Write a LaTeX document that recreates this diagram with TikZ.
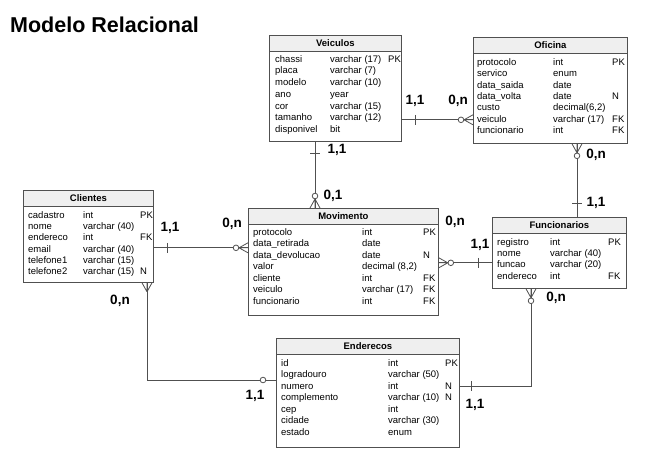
\documentclass[tikz,border=0pt]{standalone}
\usepackage{fontspec}
\setmainfont{Liberation Sans}
\usetikzlibrary{positioning,calc}

\definecolor{linegray}{HTML}{505050}
\definecolor{headgray}{HTML}{EFEFEF}

\tikzset{
  tbl/.style={draw=linegray, fill=white, line width=0.8pt, inner sep=0, anchor=north west},
  tblhead/.style={draw=linegray, fill=headgray, line width=0.8pt, inner sep=0, anchor=north west,
    minimum height=16, font=\fontsize{9.5}{11}\selectfont\bfseries},
  cell/.style={anchor=base west, inner sep=0, font=\fontsize{9.5}{11}\selectfont},
  card/.style={inner sep=0, font=\fontsize{13.5}{15}\selectfont\bfseries},
  rel/.style={draw=linegray, line width=0.8pt},
  crowfoot/.pic={\draw[rel] (-9,0) -- (0,-5) (-9,0) -- (0,5) (-9,0) -- (0,0);},
  crowzero/.pic={\draw[rel] (-9,0) -- (0,-5) (-9,0) -- (0,5) (-12,0) -- (0,0);
    \draw[rel, fill=white] (-12,0) circle (2.8);},
}

\begin{document}
\begin{tikzpicture}[x=1pt, y=-1pt]
    \useasboundingbox[fill=white] (0,0) rectangle (660,460);

    % Title
    \node[anchor=west, inner sep=0, font=\fontsize{21.5}{24}\selectfont\bfseries] (title) at (10,25) {Modelo Relacional};

    % Veiculos
    \node[tbl, minimum width=132, minimum height=106] (veiculos) at (269,35) {};
    \node[tblhead, minimum width=132] (veiculos-h) at (veiculos.north west) {Veiculos};
    \foreach \c/\d/\k [count=\i] in {chassi/varchar (17)/PK, placa/varchar (7)/{}, modelo/varchar (10)/{},
        ano/year/{}, cor/varchar (15)/{}, tamanho/varchar (12)/{}, disponivel/bit/{}} {
      \node[cell] (veic-c\i) at (275, {50.6+11.7*\i}) {\c};
      \node[cell] (veic-d\i) at (330, {50.6+11.7*\i}) {\d};
      \node[cell] (veic-k\i) at (388, {50.6+11.7*\i}) {\k};
    }

    % Oficina
    \node[tbl, minimum width=154, minimum height=106] (oficina) at (473,37) {};
    \node[tblhead, minimum width=154] (oficina-h) at (oficina.north west) {Oficina};
    \foreach \c/\d/\k [count=\i] in {protocolo/int/PK, servico/enum/{}, data\_saida/date/{},
        data\_volta/date/N, custo/{decimal(6,2)}/{}, veiculo/varchar (17)/FK, funcionario/int/FK} {
      \node[cell] (ofic-c\i) at (477, {53.9+11.4*\i}) {\c};
      \node[cell] (ofic-d\i) at (553, {53.9+11.4*\i}) {\d};
      \node[cell] (ofic-k\i) at (612, {53.9+11.4*\i}) {\k};
    }

    % Clientes
    \node[tbl, minimum width=130, minimum height=92] (clientes) at (23,190) {};
    \node[tblhead, minimum width=130] (clientes-h) at (clientes.north west) {Clientes};
    \foreach \c/\d/\k [count=\i] in {cadastro/int/PK, nome/varchar (40)/{}, endereco/int/FK,
        email/varchar (40)/{}, telefone1/varchar (15)/{}, telefone2/varchar (15)/N} {
      \node[cell] (clie-c\i) at (28, {207+11.3*\i}) {\c};
      \node[cell] (clie-d\i) at (83, {207+11.3*\i}) {\d};
      \node[cell] (clie-k\i) at (140, {207+11.3*\i}) {\k};
    }

    % Movimento
    \node[tbl, minimum width=190, minimum height=107] (movimento) at (248,208) {};
    \node[tblhead, minimum width=190] (movimento-h) at (movimento.north west) {Movimento};
    \foreach \c/\d/\k [count=\i] in {protocolo/int/PK, data\_retirada/date/{}, data\_devolucao/date/N,
        valor/{decimal (8,2)}/{}, cliente/int/FK, veiculo/varchar (17)/FK, funcionario/int/FK} {
      \node[cell] (movi-c\i) at (253, {223.8+11.5*\i}) {\c};
      \node[cell] (movi-d\i) at (362, {223.8+11.5*\i}) {\d};
      \node[cell] (movi-k\i) at (423, {223.8+11.5*\i}) {\k};
    }

    % Funcionarios
    \node[tbl, minimum width=134, minimum height=71] (funcionarios) at (492,217) {};
    \node[tblhead, minimum width=134] (funcionarios-h) at (funcionarios.north west) {Funcionarios};
    \foreach \c/\d/\k [count=\i] in {registro/int/PK, nome/varchar (40)/{}, funcao/varchar (20)/{},
        endereco/int/FK} {
      \node[cell] (func-c\i) at (497, {234+11.3*\i}) {\c};
      \node[cell] (func-d\i) at (550, {234+11.3*\i}) {\d};
      \node[cell] (func-k\i) at (608, {234+11.3*\i}) {\k};
    }

    % Enderecos
    \node[tbl, minimum width=183, minimum height=109] (enderecos) at (276,338) {};
    \node[tblhead, minimum width=183] (enderecos-h) at (enderecos.north west) {Enderecos};
    \foreach \c/\d/\k [count=\i] in {id/int/PK, logradouro/varchar (50)/{}, numero/int/N,
        complemento/varchar (10)/N, cep/int/{}, cidade/varchar (30)/{}, estado/enum/{}} {
      \node[cell] (ende-c\i) at (281, {354.8+11.5*\i}) {\c};
      \node[cell] (ende-d\i) at (388, {354.8+11.5*\i}) {\d};
      \node[cell] (ende-k\i) at (445, {354.8+11.5*\i}) {\k};
    }

    % Veiculos - Movimento
    \draw[rel] ($(veiculos.south west)+(46,0)$) coordinate (vm1) -- ($(movimento.north west)+(67,0)$) coordinate (vm2);
    \draw[rel] ($(vm1)+(-5,12)$) -- ++(10,0);
    \pic[rotate=-90] at (vm2) {crowzero};
    \node[card] (vm-a) at (337,150) {1,1};
    \node[card] (vm-b) at (333,196) {0,1};

    % Veiculos - Oficina
    \draw[rel] ($(veiculos.south east)+(0,-22)$) coordinate (vo1) -- ($(oficina.south west)+(0,-24)$) coordinate (vo2);
    \draw[rel] ($(vo1)+(14,-5)$) -- ++(0,10);
    \pic at (vo2) {crowzero};
    \node[card] (vo-a) at (415,101) {1,1};
    \node[card] (vo-b) at (458,101) {0,n};

    % Oficina - Funcionarios
    \draw[rel] ($(oficina.south west)+(104,0)$) coordinate (of1) -- ($(funcionarios.north west)+(85,0)$) coordinate (of2);
    \pic[rotate=90] at (of1) {crowzero};
    \draw[rel] ($(of2)+(-5,-14)$) -- ++(10,0);
    \node[card] (of-a) at (596,155) {0,n};
    \node[card] (of-b) at (596,203) {1,1};

    % Clientes - Movimento
    \draw[rel] ($(clientes.south east)+(0,-35)$) coordinate (cm1) -- ($(movimento.south west)+(0,-68)$) coordinate (cm2);
    \draw[rel] ($(cm1)+(14,-5)$) -- ++(0,10);
    \pic at (cm2) {crowzero};
    \node[card] (cm-a) at (170,228) {1,1};
    \node[card] (cm-b) at (232,224) {0,n};

    % Movimento - Funcionarios
    \draw[rel] ($(movimento.south east)+(0,-53)$) coordinate (mf1) -- ($(funcionarios.south west)+(0,-26)$) coordinate (mf2);
    \pic[rotate=180] at (mf1) {crowzero};
    \draw[rel] ($(mf2)+(-14,-5)$) -- ++(0,10);
    \node[card] (mf-a) at (455,222) {0,n};
    \node[card] (mf-b) at (480,245) {1,1};

    % Clientes - Enderecos
    \draw[rel] ($(clientes.south west)+(124,0)$) coordinate (ce1) |- ($(enderecos.north west)+(0,42)$) coordinate (ce2);
    \pic[rotate=90] at (ce1) {crowfoot};
    \draw[rel, fill=white] ($(ce2)+(-13,0)$) circle (2.8);
    \node[card] (ce-a) at (120,301) {0,n};
    \node[card] (ce-b) at (255,396) {1,1};

    % Funcionarios - Enderecos
    \draw[rel] ($(funcionarios.south west)+(39,0)$) coordinate (fe1) |- ($(enderecos.north east)+(0,48)$) coordinate (fe2);
    \pic[rotate=90] at (fe1) {crowzero};
    \draw[rel] ($(fe2)+(12,-5)$) -- ++(0,10);
    \node[card] (fe-a) at (556,298) {0,n};
    \node[card] (fe-b) at (475,405) {1,1};
\end{tikzpicture}
\end{document}
